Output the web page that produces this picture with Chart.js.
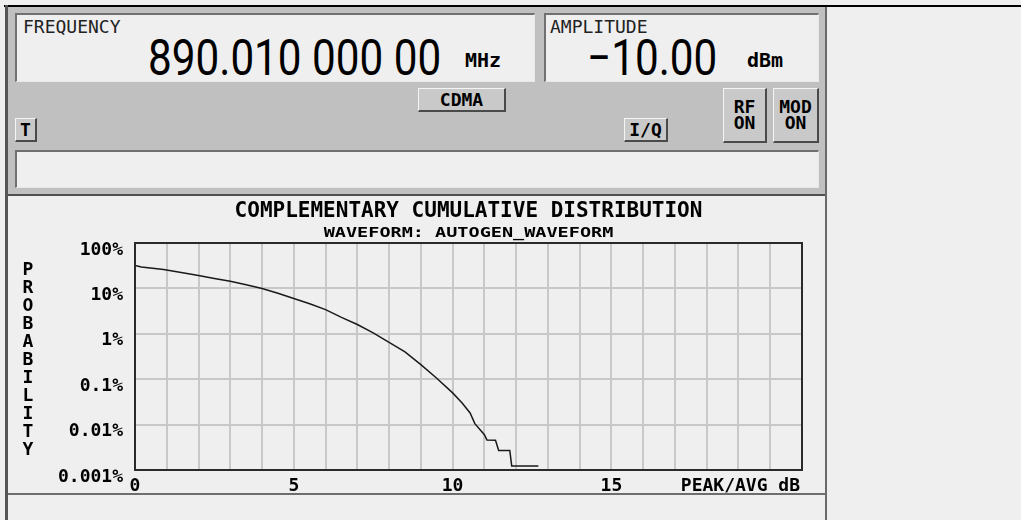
<!DOCTYPE html>
<html>
<head>
<meta charset="utf-8">
<script src="https://cdn.jsdelivr.net/npm/chart.js@4.4.1/dist/chart.umd.min.js"></script>
<style>
  body { margin: 0; width: 1021px; height: 520px; background: #efefef; position: relative; overflow: hidden; font-family: "DejaVu Sans Mono", monospace; color: #000; }
  .abs { position: absolute; box-sizing: border-box; }
  .inset { background: #efefef; border-top: 2px solid #707070; border-left: 2px solid #707070; border-right: 1px solid #e8e8e8; border-bottom: 1px solid #e8e8e8; }
  .btn { background: #c9c9c9; border-top: 1px solid #f4f4f4; border-left: 1px solid #f4f4f4; border-right: 2px solid #4a4a4a; border-bottom: 2px solid #4a4a4a;
         display: flex; align-items: center; justify-content: center; text-align: center; font-weight: bold; font-size: 18px; line-height: 16px; }
  .lbl { font-size: 18px; line-height: 18px; color: #222; white-space: nowrap; }
  .big { font-family: Roboto, sans-serif; font-size: 50px; line-height: 50px; white-space: nowrap; transform-origin: left top; transform: scaleX(0.845); }
  .unit { font-size: 20px; line-height: 20px; font-weight: bold; white-space: nowrap; }
  canvas { position: absolute; left: 0; top: 0; pointer-events: none; }
</style>
</head>
<body>
<div class="abs" style="left:4px;top:5px;width:1017px;height:2px;background:#000"></div>
<div class="abs" style="left:5px;top:5px;width:3px;height:515px;background:#555"></div>
<div class="abs" style="left:8px;top:7px;width:817px;height:187px;background:#c0c0c0"></div>
<div class="abs" style="left:8px;top:194px;width:817px;height:2px;background:#505050"></div>
<div class="abs" style="left:8px;top:493px;width:817px;height:2px;background:#6e6e6e"></div>
<div class="abs" style="left:825px;top:7px;width:2px;height:513px;background:#6a6a6a"></div>

<div class="abs inset" style="left:15px;top:13px;width:520px;height:69px"></div>
<div class="abs lbl" style="left:23px;top:18px">FREQUENCY</div>
<div class="abs big" style="left:148px;top:33px">890.010 000 00</div>
<div class="abs unit" style="left:465px;top:50px">MHz</div>

<div class="abs inset" style="left:544px;top:13px;width:275px;height:69px"></div>
<div class="abs lbl" style="left:550px;top:18px">AMPLITUDE</div>
<div class="abs big" style="left:587px;top:33px">−10.00</div>
<div class="abs unit" style="left:747px;top:50px">dBm</div>

<div class="abs btn" style="left:418px;top:88px;width:88px;height:24px">CDMA</div>
<div class="abs btn" style="left:15px;top:118px;width:22px;height:24px">T</div>
<div class="abs btn" style="left:624px;top:118px;width:44px;height:24px">I/Q</div>
<div class="abs btn" style="left:723px;top:88px;width:44px;height:55px">RF<br>ON</div>
<div class="abs btn" style="left:773px;top:88px;width:46px;height:55px">MOD<br>ON</div>

<div class="abs inset" style="left:15px;top:150px;width:804px;height:38px"></div>

<canvas id="ccdf" width="1021" height="520"></canvas>

<script>
const peakAvgDb = [0, 0.2, 0.9, 1.5, 2.0, 2.5, 3.0, 3.5, 4.0, 4.5, 5.0, 5.5, 6.0, 6.5, 7.0, 7.5, 8.0, 8.5, 9.0, 9.5,
    10.0, 10.3, 10.55, 10.7, 11.0, 11.08, 11.35, 11.45, 11.8, 11.86, 12.7];
const probabilityPct = [32, 29.5, 26, 22, 19.3, 16.6, 14.3, 12, 9.9, 7.8, 6.0, 4.6, 3.4, 2.3, 1.6, 1.05, 0.65, 0.40, 0.21, 0.105,
    0.05, 0.03, 0.018, 0.0105, 0.006, 0.0046, 0.0045, 0.0027, 0.0027, 0.00123, 0.00123];

const xTickValues = [0, 5, 10, 15];
const yTickValues = [0.001, 0.01, 0.1, 1, 10, 100];
const yTickLabels = ['0.001%', '0.01%', '0.1%', '1%', '10%', '100%'];

const chartTitle = 'COMPLEMENTARY CUMULATIVE DISTRIBUTION';
const chartSubtitle = 'WAVEFORM: AUTOGEN_WAVEFORM';
const yAxisTitle = 'PROBABILITY';
const xAxisTitle = 'PEAK/AVG dB';

const monoBold = (size) => ({ family: '"DejaVu Sans Mono", monospace', size, weight: 'bold' });

// moldura, titulos e rotulos que o Chart.js nao desenha do jeito do instrumento
const molduraPlugin = {
    id: 'moldura',
    afterDraw(chart) {
        const { ctx, chartArea: a } = chart;
        ctx.save();
        ctx.strokeStyle = '#2a2a2a';
        ctx.lineWidth = 2;
        ctx.strokeRect(a.left, a.top, a.right - a.left, a.bottom - a.top);

        ctx.fillStyle = '#000';
        ctx.textAlign = 'center';
        ctx.textBaseline = 'alphabetic';
        const cx = (a.left + a.right) / 2;
        ctx.font = 'bold 21px "DejaVu Sans Mono"';
        ctx.fillText(chartTitle, cx, a.top - 26);

        ctx.save();
        ctx.translate(cx, a.top - 6);
        ctx.scale(1, 0.75);
        ctx.font = 'bold 18.5px "DejaVu Sans Mono"';
        ctx.fillText(chartSubtitle, 0, 0);
        ctx.restore();

        ctx.font = 'bold 18px "DejaVu Sans Mono"';
        [...yAxisTitle].forEach((ch, i) => ctx.fillText(ch, 28, 275 + i * 18));

        ctx.textAlign = 'right';
        ctx.fillText(xAxisTitle, a.right - 2, 491);
        ctx.restore();
    }
};

new Chart(document.getElementById('ccdf'), {
    type: 'line',
    data: {
        datasets: [{
            data: peakAvgDb.map((x, i) => ({ x, y: probabilityPct[i] })),
            borderColor: '#1a1a1a',
            borderWidth: 1.5,
            pointRadius: 0,
            tension: 0,
            fill: false
        }]
    },
    options: {
        responsive: false,
        animation: false,
        devicePixelRatio: 1,
        layout: { padding: { top: 243, left: 0, right: 219, bottom: 0 } },
        plugins: { legend: { display: false }, tooltip: { enabled: false } },
        scales: {
            x: {
                type: 'linear',
                min: 0,
                max: 21,
                afterFit: (scale) => { scale.height = 50; },
                grid: { color: '#c8c8c8', lineWidth: 2, drawTicks: false },
                border: { display: false },
                ticks: {
                    stepSize: 1,
                    autoSkip: false,
                    maxRotation: 0,
                    padding: 6,
                    color: '#000',
                    font: monoBold(18),
                    callback: (v) => xTickValues.includes(v) ? String(v) : ''
                }
            },
            y: {
                type: 'logarithmic',
                min: 0.001,
                max: 100,
                afterFit: (scale) => { scale.width = 135; },
                afterBuildTicks: (scale) => { scale.ticks = yTickValues.map(value => ({ value })); },
                grid: { color: '#c8c8c8', lineWidth: 2, drawTicks: false },
                border: { display: false },
                ticks: {
                    padding: 12,
                    labelOffset: 7,
                    color: '#000',
                    font: monoBold(18),
                    callback: (v, i) => yTickLabels[i]
                }
            }
        }
    },
    plugins: [molduraPlugin]
});
</script>
</body>
</html>
